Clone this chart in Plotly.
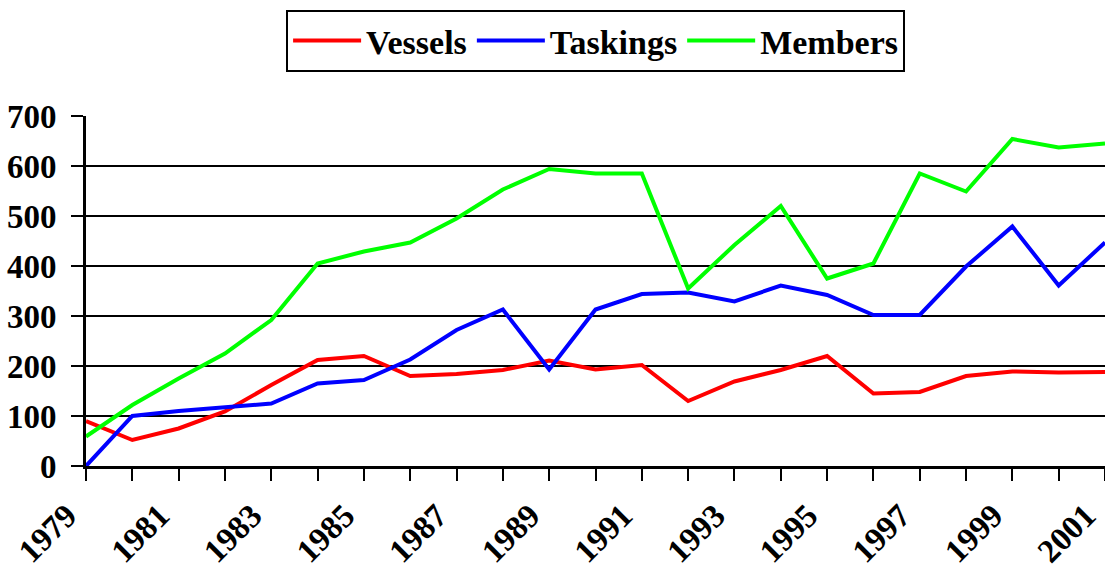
import plotly.graph_objects as go

years = list(range(1979, 2002))
vessels = [90, 52, 75, 109, 162, 212, 220, 180, 184, 192, 211, 193, 202, 130, 169, 192, 220, 145, 148, 180, 189, 187, 188]
taskings = [0, 100, 110, 117, 125, 165, 172, 213, 272, 313, 193, 313, 344, 347, 329, 361, 342, 302, 302, 399, 479, 361, 447]
members = [59, 122, 175, 225, 292, 405, 429, 447, 495, 553, 594, 585, 585, 355, 442, 520, 375, 405, 585, 549, 654, 637, 645]
tick_years = years[::2]
tick_labels = [str(y) for y in tick_years]
y_ticks = [0, 100, 200, 300, 400, 500, 600, 700]

FONT = "Liberation Serif, Times New Roman, serif"

fig = go.Figure()
for name, vals, col in [("Vessels", vessels, "#FF0000"),
                        ("Taskings", taskings, "#0000FF"),
                        ("Members", members, "#00FF00")]:
    fig.add_trace(go.Scatter(x=years, y=vals, mode="lines", name=name,
                             line=dict(color=col, width=4), cliponaxis=False))

fig.update_layout(
    width=1105, height=573,
    margin=dict(l=86, r=0, t=116, b=107, autoexpand=False),
    paper_bgcolor="white", plot_bgcolor="white",
    font=dict(family=FONT, size=32, color="black", weight="bold"),
    showlegend=True,
    legend=dict(orientation="h", xref="container", yref="container",
                x=0.539, xanchor="center", y=1 - 10 / 573, yanchor="top",
                bordercolor="black", borderwidth=2, itemwidth=68,
                font=dict(family=FONT, size=34, color="black", weight="bold"),
                tracegroupgap=0),
    xaxis=dict(range=[1979, 2001], tickmode="array", tickvals=tick_years, ticktext=tick_labels,
               tickangle=-45, ticks="outside", ticklen=12, tickwidth=2, tickcolor="black",
               showline=True, linecolor="black", linewidth=3, showgrid=False, zeroline=False,
               automargin=False, ticklabeloverflow="allow", ticklabelshift=-19,
               ticklabelstandoff=2,
               minor=dict(dtick=1, tick0=1979, ticks="outside", ticklen=12, tickwidth=2,
                          tickcolor="black", showgrid=False),
               tickfont=dict(family=FONT, size=33, color="black", weight="bold")),
    yaxis=dict(range=[0, 700], tickmode="array", tickvals=y_ticks,
               ticks="outside", ticklen=12, tickwidth=2, tickcolor="black",
               showline=True, linecolor="black", linewidth=3, showgrid=True,
               gridcolor="black", gridwidth=2, zeroline=False, ticklabelstandoff=8,
               automargin=False,
               tickfont=dict(family=FONT, size=33, color="black", weight="bold")),
)

fig.write_html("out.html", config={"displayModeBar": False},
               post_script="document.body.style.margin='0';document.body.style.overflow='hidden';")
